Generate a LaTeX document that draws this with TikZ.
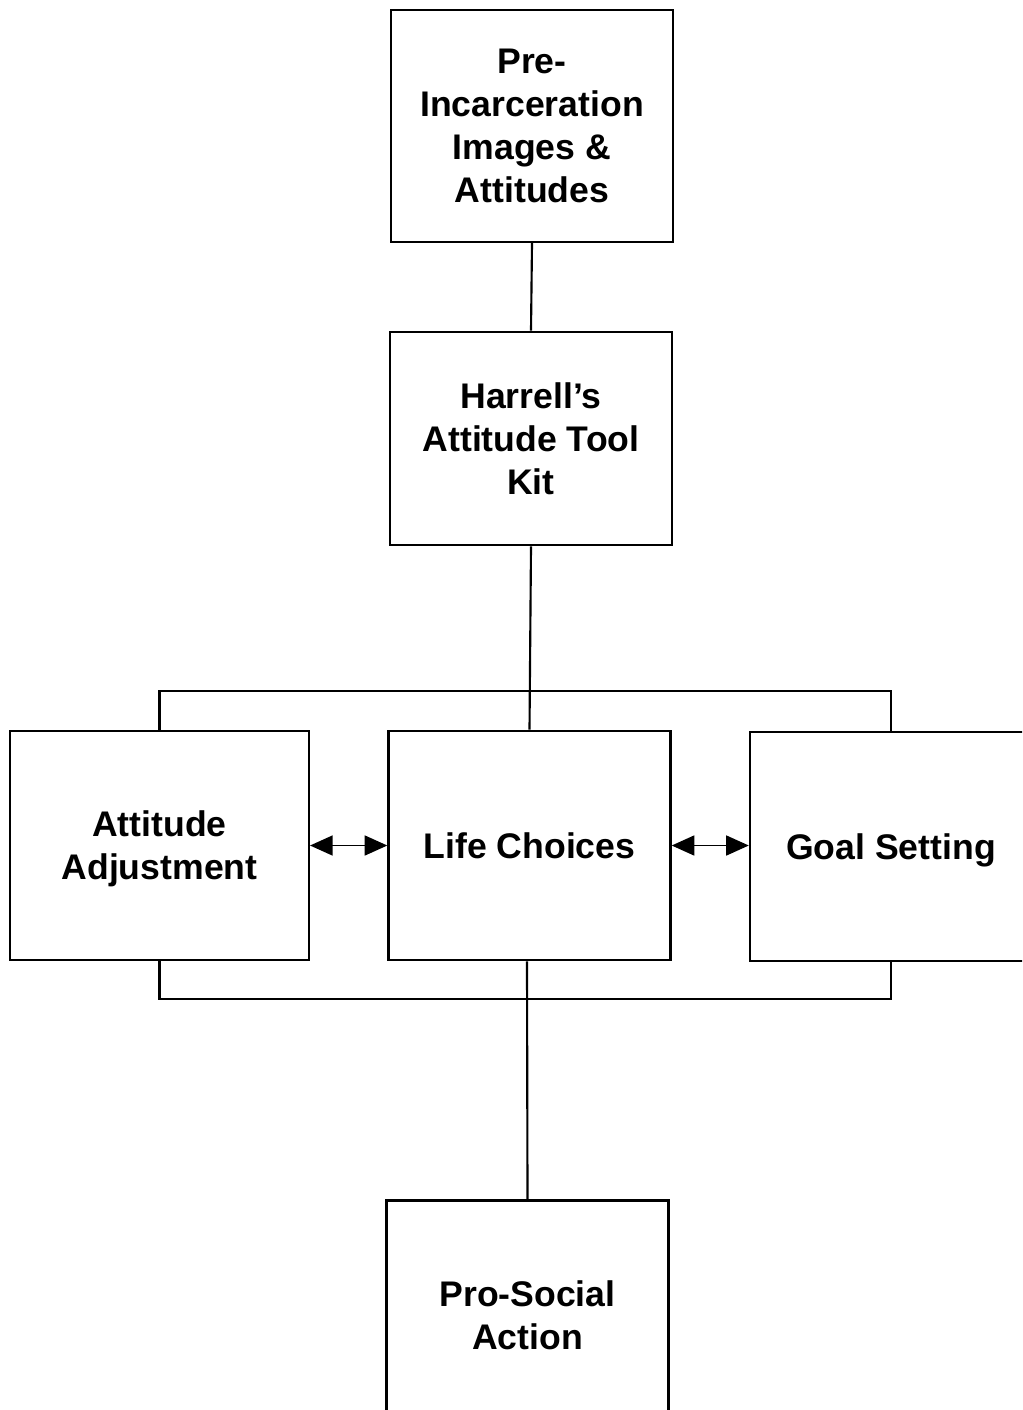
\documentclass[tikz,border=0pt]{standalone}
\usepackage{fontspec}
\setmainfont{Liberation Sans}
\usetikzlibrary{arrows.meta,positioning,calc}

\begin{document}
\begin{tikzpicture}[
    x=0.75pt, y=-0.75pt,
    box/.style={rectangle, draw, line width=1.8pt, minimum width=211.5pt, align=center,
        inner sep=0pt, text depth=0pt, font=\fontsize{26.7}{32.3}\selectfont\bfseries},
    link/.style={line width=1.6pt},
    twoway/.style={line width=1.3pt, {Triangle[length=17pt,width=15pt]}-{Triangle[length=17pt,width=15pt]}},
]

% page frame (the right and bottom boxes run off the edge)
\path[use as bounding box, clip] (0,0) rectangle (1022,1410);

% Top of the chain
\node[box, minimum height=174pt] (preinc) at (532, 126) {Pre-\\Incarceration\\Images \&\\Attitudes};
\node[box, minimum height=160pt] (toolkit) at (531, 438.5) {Harrell’s\\Attitude Tool\\Kit};

% Middle row
\node[box, minimum width=224pt, minimum height=172pt] (attadj) at (159.5, 845.5) {Attitude\\Adjustment};
\node[box, minimum height=172pt] (life) at (529.5, 845.5) {Life Choices};
\node[box, minimum height=172pt] (goal) at (891, 846.5) {Goal Setting};

% Outcome
\node[box, minimum height=172pt] (prosocial) at (527.5, 1315) {Pro-Social\\Action};

% Connectors
\coordinate (topbar) at (531, 691);
\coordinate (botbar) at (527, 999);

\draw[link] (preinc.south) -- (toolkit.north);
\draw[link] (toolkit.south) -- (life.north);
\draw[link] (attadj.north) |- (topbar) -| (goal.north);
\draw[link] (attadj.south) |- (botbar) -| (goal.south);
\draw[link] (botbar |- life.south) -- (prosocial.north);

\draw[twoway] (attadj.east) -- (life.west);
\draw[twoway] (life.east) -- (goal.west |- life.east);

\end{tikzpicture}
\end{document}
